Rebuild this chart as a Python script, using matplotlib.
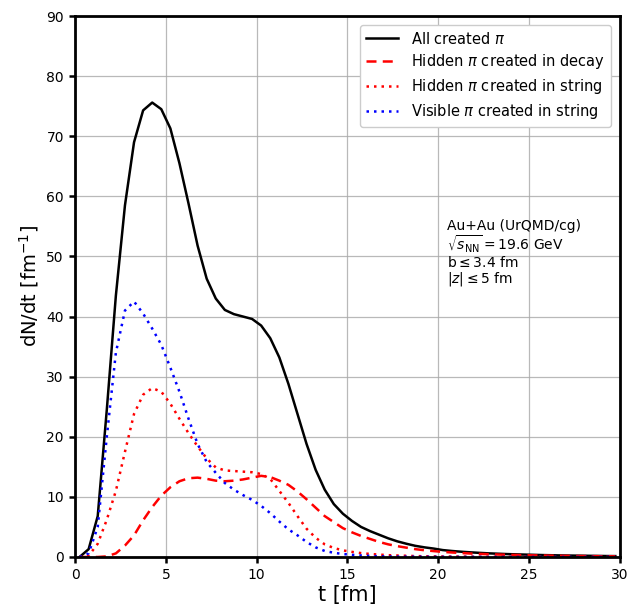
import numpy as np
import matplotlib
matplotlib.use('Agg')
import matplotlib.pyplot as plt

# time bins (bin centres, fm)
t = np.arange(0.25, 30.0, 0.5)

all_pi = [0.0, 1.3, 6.8, 24.5, 43.5, 58.5, 69.0, 74.3, 75.6, 74.5,
          71.3, 65.5, 58.8, 51.8, 46.3, 43.0, 41.1, 40.4, 40.0, 39.6,
          38.5, 36.4, 33.2, 28.8, 23.8, 18.8, 14.5, 11.2, 8.8, 7.2,
          6.0, 5.0, 4.3, 3.7, 3.1, 2.6, 2.2, 1.85, 1.6, 1.4,
          1.15, 1.0, 0.88, 0.78, 0.69, 0.61, 0.55, 0.49, 0.44, 0.4,
          0.36, 0.32, 0.29, 0.26, 0.24, 0.22, 0.2, 0.18, 0.16, 0.15]

hidden_decay = [0.0, 0.0, 0.0, 0.1, 0.6, 1.9, 3.6, 6.1, 8.3, 10.2,
                11.6, 12.6, 13.1, 13.2, 13.0, 12.7, 12.6, 12.7, 12.9, 13.2,
                13.5, 13.3, 12.7, 12.0, 10.9, 9.6, 8.2, 6.8, 5.8, 4.8,
                4.1, 3.5, 3.0, 2.5, 2.1, 1.8, 1.55, 1.3, 1.12, 0.98,
                0.85, 0.75, 0.66, 0.58, 0.52, 0.46, 0.41, 0.37, 0.33, 0.3,
                0.27, 0.24, 0.22, 0.2, 0.18, 0.16, 0.15, 0.13, 0.12, 0.11]

hidden_string = [0.0, 0.2, 2.2, 6.2, 11.0, 17.5, 23.8, 27.0, 28.1, 27.5,
                 25.5, 23.0, 20.6, 18.4, 16.4, 14.9, 14.4, 14.3, 14.2, 14.1,
                 13.8, 13.0, 11.0, 9.0, 6.8, 4.7, 3.2, 2.1, 1.5, 1.1,
                 0.85, 0.65, 0.5, 0.4, 0.3, 0.25, 0.2, 0.15, 0.12, 0.1,
                 0.08, 0.07, 0.06, 0.05, 0.04, 0.04, 0.03, 0.03, 0.03, 0.02,
                 0.02, 0.02, 0.02, 0.02, 0.01, 0.01, 0.01, 0.01, 0.01, 0.01]

visible_string = [0.0, 0.6, 5.0, 20.0, 34.0, 41.0, 42.5, 40.5, 38.0, 35.3,
                  31.5, 27.5, 23.0, 18.8, 15.8, 14.0, 12.3, 11.2, 10.3, 9.5,
                  8.5, 7.3, 5.9, 4.6, 3.6, 2.5, 1.6, 1.0, 0.7, 0.5,
                  0.35, 0.25, 0.18, 0.12, 0.08, 0.06, 0.05, 0.04, 0.03, 0.02,
                  0.02, 0.01, 0.01, 0.01, 0.01, 0.0, 0.0, 0.0, 0.0, 0.0,
                  0.0, 0.0, 0.0, 0.0, 0.0, 0.0, 0.0, 0.0, 0.0, 0.0]

fig = plt.figure(figsize=(6.39, 6.11), dpi=100)
ax = fig.add_axes([0.1174, 0.0884, 0.8526, 0.8854])

ax.plot(t, all_pi, color='black', lw=1.8, label=r'All created $\pi$')
ax.plot(t, hidden_decay, color='red', lw=1.8, ls=(0, (4, 2.5)), label=r'Hidden $\pi$ created in decay')
ax.plot(t, hidden_string, color='red', lw=1.8, ls=(0, (1, 2)), label=r'Hidden $\pi$ created in string')
ax.plot(t, visible_string, color='blue', lw=1.8, ls=(0, (1, 2)), label=r'Visible $\pi$ created in string')

ax.set_xlim(0, 30)
ax.set_ylim(0, 90)
ax.set_xticks(np.arange(0, 31, 5))
ax.set_yticks(np.arange(0, 91, 10))
ax.tick_params(labelsize=10, width=1.8, length=4.5)
ax.grid(True, color='#a8a8a8', lw=0.9, alpha=0.8)
ax.set_axisbelow(True)

for side in ['top', 'right', 'left', 'bottom']:
    ax.spines[side].set_linewidth(2)

ax.set_xlabel('t [fm]', fontsize=15, labelpad=2)
ax.set_ylabel(r'dN/dt [fm$^{-1}$]', fontsize=14)

ax.legend(loc='upper right', fontsize=10.5, handlelength=2.2, handletextpad=0.9,
          labelspacing=0.4, borderaxespad=0.6, fancybox=True, framealpha=1.0)

ax.text(20.5, 56.2, 'Au+Au (UrQMD/cg)\n' + r'$\sqrt{s_{\rm NN}}=19.6$ GeV' + '\n'
        + r'b$\leq$3.4 fm' + '\n' + r'$|z|\leq5$ fm',
        fontsize=10, va='top', ha='left', linespacing=1.0)

fig.savefig('out.png', dpi=100)
